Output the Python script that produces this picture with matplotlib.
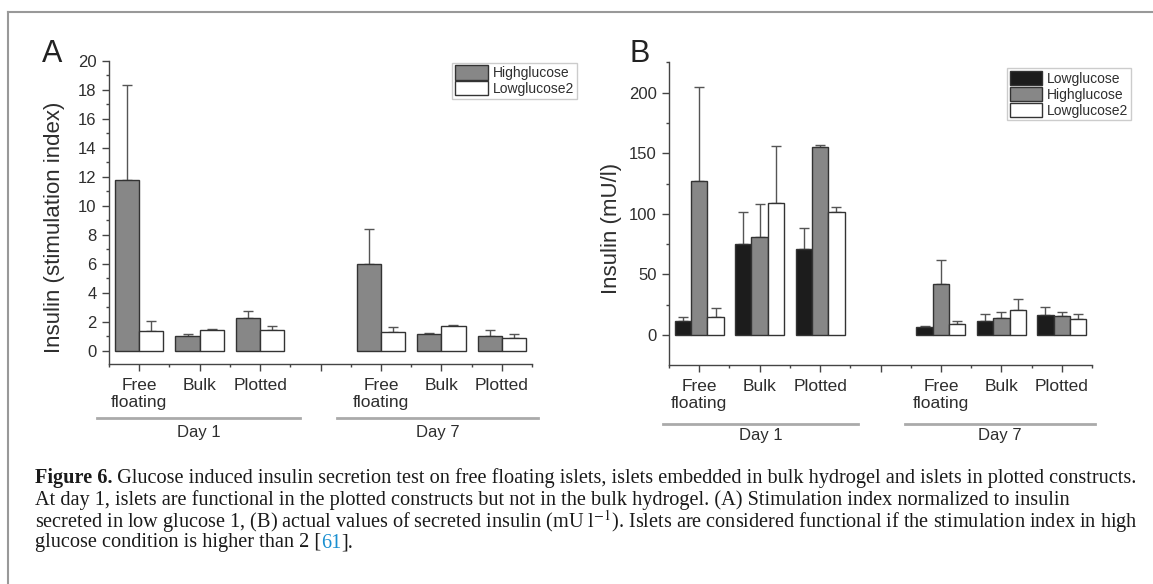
import matplotlib
matplotlib.use("Agg")
import matplotlib.pyplot as plt
import matplotlib.transforms as mtrans
from matplotlib.lines import Line2D
import numpy as np

# ---------------- data ----------------
categories = ["Free\nfloating", "Bulk", "Plotted"]
days = ["Day 1", "Day 7"]

# Panel A: stimulation index
A_high = [11.77, 1.06, 2.25, 6.00, 1.20, 1.06]
A_high_err = [6.57, 0.11, 0.53, 2.39, 0.06, 0.37]
A_low2 = [1.38, 1.43, 1.45, 1.29, 1.72, 0.90]
A_low2_err = [0.69, 0.11, 0.30, 0.39, 0.07, 0.25]

# Panel B: insulin (mU/l)
B_low = [11.6, 75.0, 70.9, 6.9, 11.9, 16.3]
B_low_err = [3.6, 26.5, 17.1, 0.6, 5.2, 7.1]
B_high = [127.4, 80.8, 155.0, 41.9, 13.8, 15.7]
B_high_err = [77.3, 27.6, 1.7, 19.9, 5.5, 3.1]
B_low2 = [14.6, 109.0, 101.5, 9.1, 20.7, 13.0]
B_low2_err = [7.4, 46.9, 4.2, 2.8, 8.8, 4.1]

caption_lines = [
    "Glucose induced insulin secretion test on free floating islets, islets embedded in bulk hydrogel and islets in plotted constructs.",
    "At day 1, islets are functional in the plotted constructs but not in the bulk hydrogel. (A) Stimulation index normalized to insulin",
    "secreted in low glucose 1, (B) actual values of secreted insulin (mU l$^{-1}$). Islets are considered functional if the stimulation index in high",
]
caption_last = ["glucose condition is higher than 2 [", "61", "]."]

# ---------------- style ----------------
plt.rcParams["font.family"] = ["Liberation Sans", "DejaVu Sans"]
plt.rcParams["mathtext.fontset"] = "stix"
TXT = "#2e2e2e"
EDGE = "#333333"
GRAY = "#878787"
BLACK = "#1c1c1c"

W, H = 1153, 584
fig = plt.figure(figsize=(W / 100, H / 100), dpi=100)

# positions: three categories per day, empty slot between the days
pos = [d * 4 + c + 1 for d in range(len(days)) for c in range(len(categories))]
tick_pos = list(range(1, 8))
tick_labels = categories + [""] + categories


def style_axes(ax, ylim, major, minor):
    ax.set_xlim(0.5, 7.5)
    ax.set_ylim(*ylim)
    for s in ("top", "right"):
        ax.spines[s].set_visible(False)
    for s in ("left", "bottom"):
        ax.spines[s].set_color("#444444")
        ax.spines[s].set_linewidth(1.0)
    ax.set_xticks(tick_pos)
    ax.set_xticklabels(tick_labels, fontsize=12.5, color=TXT, linespacing=1.15)
    ax.set_xticks(np.arange(0.5, 7.6, 1.0), minor=True)
    ax.set_yticks(major)
    ax.set_yticks(minor, minor=True)
    ax.tick_params(axis="both", which="major", length=5, width=1, color="#444444",
                   labelcolor=TXT)
    ax.tick_params(axis="x", which="major", pad=5)
    ax.tick_params(axis="y", which="major", labelsize=12, pad=4)
    ax.tick_params(axis="both", which="minor", length=2.5, width=1, color="#444444")


def bar(ax, x, h, e, w, fc):
    ax.bar(x, h, width=w, color=fc, edgecolor=EDGE, linewidth=1.0, zorder=2)
    ax.errorbar(x, h, yerr=[np.zeros(len(e)), e], fmt="none", ecolor="#555555",
                elinewidth=1.0, capsize=3.3, capthick=1.0, zorder=1)


def day_labels(ax, spans, yline, ytext):
    tr = mtrans.blended_transform_factory(ax.transData, ax.transAxes)
    for (x0, x1), lab in zip(spans, days):
        ax.add_line(Line2D([x0, x1], [yline, yline], transform=tr, color="#aaaaaa",
                           lw=2.0, clip_on=False))
        ax.text((x0 + x1) / 2, ytext, lab, transform=tr, ha="center", va="center",
                fontsize=12, color=TXT)


# ---------------- panel A ----------------
axA = fig.add_axes([109 / W, 1 - 364 / H, 423 / W, 303 / H])
style_axes(axA, (-0.9, 20), np.arange(0, 21, 2), np.arange(1, 20, 2))
wA = 0.4
xa = np.array(pos, dtype=float)
bar(axA, xa - wA / 2, A_high, A_high_err, wA, GRAY)
bar(axA, xa + wA / 2, A_low2, A_low2_err, wA, "white")
axA.set_ylabel("Insulin (stimulation index)", fontsize=16, color=TXT)
axA.yaxis.set_label_coords(-0.104, 0.45)
day_labels(axA, [(0.3, 3.66), (4.27, 7.6)], -0.178, -0.225)
hA = [plt.Rectangle((0, 0), 1, 1, fc=GRAY, ec=EDGE, lw=1.0),
      plt.Rectangle((0, 0), 1, 1, fc="white", ec=EDGE, lw=1.0)]
legA = axA.legend(hA, ["Highglucose", "Lowglucose2"], loc="upper left",
                  bbox_to_anchor=(0.811, 0.995), borderaxespad=0, fontsize=10,
                  handlelength=2.4, handleheight=1.2, labelspacing=0.08,
                  handletextpad=0.35, borderpad=0.2, fancybox=False,
                  edgecolor="#cccccc", framealpha=1)
legA.get_frame().set_linewidth(1.0)
for t in legA.get_texts():
    t.set_color(TXT)
fig.text(42 / W, 1 - 54 / H, "A", fontsize=22, color="#222222", ha="left", va="center")

# ---------------- panel B ----------------
axB = fig.add_axes([669 / W, 1 - 365.3 / H, 423 / W, 302.9 / H])
style_axes(axB, (-25, 225), np.arange(0, 201, 50), np.arange(25, 226, 50))
wB = 0.27
xb = np.array(pos, dtype=float)
bar(axB, xb - wB, B_low, B_low_err, wB, BLACK)
bar(axB, xb, B_high, B_high_err, wB, GRAY)
bar(axB, xb + wB, B_low2, B_low2_err, wB, "white")
axB.set_ylabel("Insulin (mU/l)", fontsize=16, color=TXT)
axB.yaxis.set_label_coords(-0.111, 0.453)
day_labels(axB, [(0.4, 3.63), (4.4, 7.55)], -0.194, -0.232)
hB = [plt.Rectangle((0, 0), 1, 1, fc=BLACK, ec=EDGE, lw=1.0),
      plt.Rectangle((0, 0), 1, 1, fc=GRAY, ec=EDGE, lw=1.0),
      plt.Rectangle((0, 0), 1, 1, fc="white", ec=EDGE, lw=1.0)]
legB = axB.legend(hB, ["Lowglucose", "Highglucose", "Lowglucose2"], loc="upper left",
                  bbox_to_anchor=(0.799, 0.981), borderaxespad=0, fontsize=10,
                  handlelength=2.3, handleheight=1.2, labelspacing=0.08,
                  handletextpad=0.35, borderpad=0.2, fancybox=False,
                  edgecolor="#cccccc", framealpha=1)
legB.get_frame().set_linewidth(1.0)
for t in legB.get_texts():
    t.set_color(TXT)
fig.text(630 / W, 1 - 54 / H, "B", fontsize=22, color="#222222", ha="left", va="center")

# ---------------- frame ----------------
fig.add_artist(Line2D([8 / W, 1], [1 - 12 / H, 1 - 12 / H], color="#999999", lw=1.5))
fig.add_artist(Line2D([8 / W, 8 / W], [1 - 12 / H, 0], color="#999999", lw=1.5))

# ---------------- caption ----------------
renderer = fig.canvas.get_renderer()
cap_font = ["Liberation Serif", "DejaVu Serif"]
x_left = 35
line_y = [478, 500, 522, 543]

# fit the first line width to the reference
probe_size = 12.0
tb = fig.text(0, 0, "Figure 6.", fontsize=probe_size, fontweight="bold", family=cap_font)
tr_ = fig.text(0, 0, " " + caption_lines[0], fontsize=probe_size, family=cap_font)
wtot = tb.get_window_extent(renderer).width + tr_.get_window_extent(renderer).width
tb.remove(); tr_.remove()
size = probe_size * (1137 - x_left) / wtot


def put(xpix, ypix, s, **kw):
    t = fig.text(xpix / W, 1 - ypix / H, s, fontsize=size, family=cap_font,
                 va="center", ha="left", color="#1a1a1a", **kw)
    return t.get_window_extent(renderer).width


wb = put(x_left, line_y[0], "Figure 6.", fontweight="bold")
put(x_left + wb, line_y[0], " " + caption_lines[0])
put(x_left, line_y[1], caption_lines[1])
put(x_left, line_y[2], caption_lines[2])
x = x_left
x += put(x, line_y[3], caption_last[0])
t61 = fig.text(x / W, 1 - line_y[3] / H, caption_last[1], fontsize=size, family=cap_font,
               va="center", ha="left", color="#1a8fd0")
x += t61.get_window_extent(renderer).width
put(x, line_y[3], caption_last[2])

fig.savefig("out.png", dpi=100)
